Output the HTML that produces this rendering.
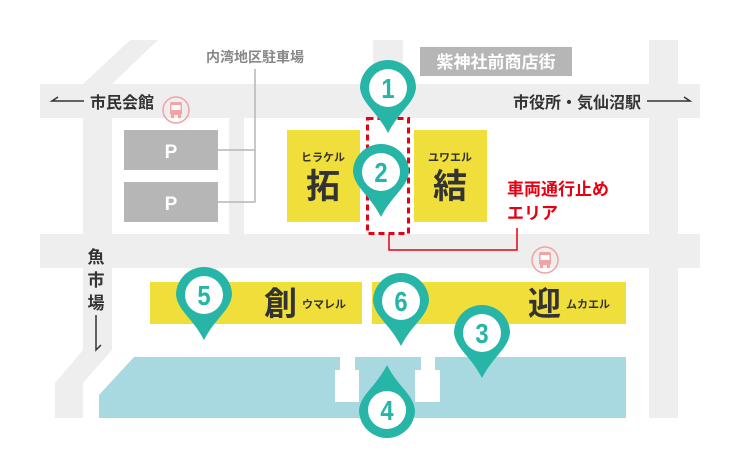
<!DOCTYPE html>
<html><head><meta charset="utf-8"><style>
html,body{margin:0;padding:0;background:#fff;width:740px;height:458px;overflow:hidden}
svg{display:block}
text{font-family:"Liberation Sans","Noto Sans CJK JP",sans-serif;font-weight:bold}
</style></head><body>
<svg width="740" height="458" viewBox="0 0 740 458" xmlns="http://www.w3.org/2000/svg">
<defs>
<g id="pin"><path d="M-28,0 A28,28 0 1,1 28,0 C26,16 12,22 0,45 C-12,22 -26,16 -28,0 Z" fill="#26b5a6"/><circle r="19" fill="#fff"/></g>
<g id="bus"><circle r="13" fill="none" stroke="#f2a3a3" stroke-width="1.5"/><rect x="-6" y="-8" width="12" height="13" rx="2" fill="#f2a3a3"/><rect x="-4.5" y="-5" width="9" height="5" fill="#fff"/><rect x="-5" y="5" width="3" height="3" fill="#f2a3a3"/><rect x="2" y="5" width="3" height="3" fill="#f2a3a3"/></g>
</defs>
<g fill="#eeeeee">
<rect x="40" y="84" width="660" height="34"/>
<rect x="40" y="234" width="660" height="34"/>
<polygon points="83,84 112,84 158,40 130,40"/>
<rect x="83" y="118" width="29" height="232"/>
<polygon points="83,350 112,350 83,383 83,418 55,418 55,383"/>
<rect x="229" y="118" width="15" height="116"/>
<rect x="373" y="40" width="30" height="44"/>
<rect x="649" y="40" width="29" height="378"/>
</g>
<!-- parking -->
<rect x="124" y="130" width="94" height="40" fill="#b5b6b5"/>
<rect x="124" y="182" width="94" height="40" fill="#b5b6b5"/>
<text x="171" y="158" font-size="19" fill="#fff" text-anchor="middle">P</text>
<text x="171" y="210" font-size="19" fill="#fff" text-anchor="middle">P</text>
<path d="M218,150 H255 M218,202 H255 V69" stroke="#b5b5b5" stroke-width="1.5" fill="none"/>
<text x="255" y="62" font-size="14" fill="#888" text-anchor="middle">内湾地区駐車場</text>
<!-- shrine street -->
<rect x="420" y="47" width="152" height="29" fill="#b5b6b5"/>
<text x="496" y="68" font-size="17" fill="#fff" text-anchor="middle">紫神社前商店街</text>
<!-- road labels -->
<text x="90" y="108" font-size="16" fill="#333">市民会館</text>
<path d="M84,101 H52 L58,97" stroke="#333" stroke-width="1.5" fill="none"/>
<text x="513" y="108" font-size="16" fill="#333">市役所・気仙沼駅</text>
<path d="M647,101 H690 L684,97" stroke="#333" stroke-width="1.5" fill="none"/>
<text x="96" y="263" font-size="17" fill="#333" text-anchor="middle">魚</text>
<text x="96" y="286" font-size="17" fill="#333" text-anchor="middle">市</text>
<text x="96" y="309" font-size="17" fill="#333" text-anchor="middle">場</text>
<path d="M96,315 V350 L101,345" stroke="#333" stroke-width="1.5" fill="none"/>
<!-- yellow blocks -->
<rect x="287" y="130" width="73" height="92" fill="#f0df3a"/>
<rect x="414" y="130" width="73" height="92" fill="#f0df3a"/>
<text x="323" y="161" font-size="11" fill="#333" text-anchor="middle">ヒラケル</text>
<text x="323" y="198" font-size="34" fill="#333" text-anchor="middle">拓</text>
<text x="450" y="161" font-size="11" fill="#333" text-anchor="middle">ユワエル</text>
<text x="450" y="198" font-size="34" fill="#333" text-anchor="middle">結</text>
<rect x="150" y="282" width="212" height="42" fill="#f0df3a"/>
<rect x="372" y="282" width="254" height="42" fill="#f0df3a"/>
<text x="264" y="315" font-size="33" fill="#333">創</text>
<text x="302" y="308" font-size="11" fill="#333">ウマレル</text>
<text x="528" y="315" font-size="33" fill="#333">迎</text>
<text x="566" y="308" font-size="11" fill="#333">ムカエル</text>
<!-- blue -->
<polygon points="134,357 626,357 626,418 99,418 99,395" fill="#a8d9e1"/>
<g fill="#fff">
<rect x="340" y="355" width="15" height="16"/><rect x="335" y="370" width="24" height="32"/>
<rect x="421" y="355" width="14" height="16"/><rect x="415" y="370" width="25" height="32"/>
</g>
<!-- red area -->
<rect x="367.5" y="118.5" width="41" height="115" fill="none" stroke="#e60012" stroke-width="3" stroke-dasharray="6,4"/>
<path d="M389,234 V250 H517 V228" stroke="#e60012" stroke-width="1.5" fill="none"/>
<text x="507" y="195" font-size="17" fill="#e60012">車両通行止め</text>
<text x="507" y="219" font-size="17" fill="#e60012">エリア</text>
<!-- bus -->
<use href="#bus" x="176" y="110"/>
<use href="#bus" x="545" y="260"/>
<!-- pins -->
<use href="#pin" x="388" y="88"/>
<use href="#pin" x="381" y="172"/>
<use href="#pin" x="204" y="295"/>
<use href="#pin" x="401" y="301"/>
<use href="#pin" x="482" y="333"/>
<g transform="translate(387,410) scale(1,-1)"><use href="#pin"/></g>
<g font-size="28" fill="#26b5a6" text-anchor="middle">
<text x="388" y="98" transform="translate(388,0) scale(0.85,1) translate(-388,0)">1</text>
<text x="381" y="182" transform="translate(381,0) scale(0.85,1) translate(-381,0)">2</text>
<text x="204" y="305" transform="translate(204,0) scale(0.85,1) translate(-204,0)">5</text>
<text x="401" y="311" transform="translate(401,0) scale(0.85,1) translate(-401,0)">6</text>
<text x="482" y="343" transform="translate(482,0) scale(0.85,1) translate(-482,0)">3</text>
<text x="387" y="420" transform="translate(387,0) scale(0.85,1) translate(-387,0)">4</text>
</g>
</svg>
</body></html>
